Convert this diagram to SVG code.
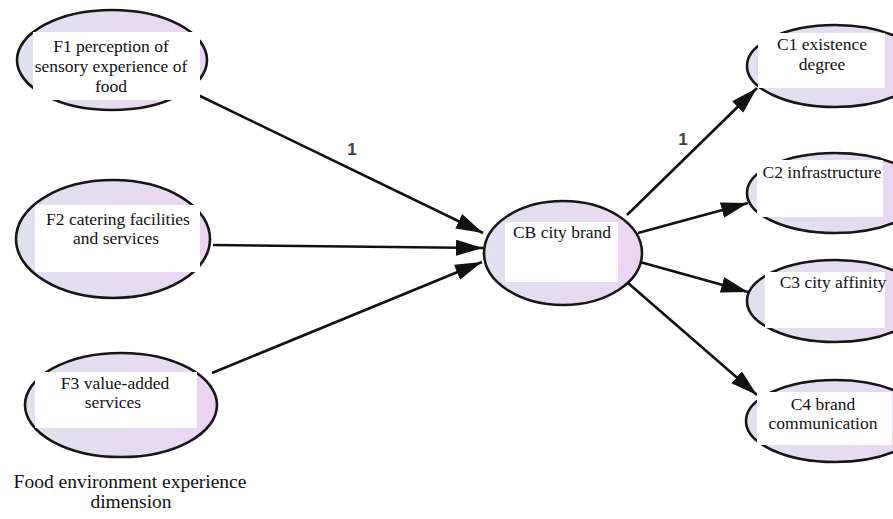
<svg xmlns="http://www.w3.org/2000/svg" width="893" height="519" viewBox="0 0 893 519">
<defs>
<linearGradient id="g" x1="0" y1="0" x2="1" y2="0">
<stop offset="0" stop-color="#dfe2ee"/>
<stop offset="1" stop-color="#ebd5f1"/>
</linearGradient>
<marker id="ah" markerUnits="userSpaceOnUse" markerWidth="28" markerHeight="18" refX="27" refY="8" orient="auto">
<path d="M0,0 L27,8 L0,16 Z" fill="#111"/>
</marker>
</defs>
<style>
.ell{fill:url(#g);stroke:#161616;stroke-width:2.6}
.box{fill:#fff}
.t{font-family:"Liberation Serif","Times New Roman",serif;font-size:17.5px;fill:#111;text-anchor:middle}
.cap{font-family:"Liberation Serif","Times New Roman",serif;font-size:19.5px;fill:#111;text-anchor:middle}
.lbl{font-family:"Liberation Sans",Arial,sans-serif;font-size:17px;font-weight:bold;fill:#404040;text-anchor:middle}
.c{stroke:#111;stroke-width:2.6;fill:none;marker-end:url(#ah)}
</style>
<g id="connectors">
<line class="c" x1="198" y1="95" x2="483" y2="233"/>
<line class="c" x1="213" y1="245" x2="483" y2="248"/>
<line class="c" x1="212" y1="373" x2="482" y2="262"/>
<line class="c" x1="627" y1="215" x2="757" y2="88"/>
<line class="c" x1="638" y1="233" x2="748" y2="203"/>
<line class="c" x1="640" y1="262" x2="748" y2="292"/>
<line class="c" x1="628" y1="283" x2="757" y2="395"/>
<text class="lbl" x="352" y="155">1</text>
<text class="lbl" x="683" y="145">1</text>
</g>
<g id="F1">
<ellipse class="ell" cx="112" cy="60" rx="95" ry="50"/>
<rect class="box" x="33" y="32" width="167" height="68"/>
<text class="t" x="111" y="52">F1 perception of</text>
<text class="t" x="111" y="72">sensory experience of</text>
<text class="t" x="111" y="92">food</text>
</g>
<g id="F2">
<ellipse class="ell" cx="113" cy="239" rx="97" ry="59"/>
<rect class="box" x="35" y="205" width="165" height="67"/>
<text class="t" x="118" y="225">F2 catering facilities</text>
<text class="t" x="116" y="244">and services</text>
</g>
<g id="F3">
<ellipse class="ell" cx="121" cy="405" rx="96" ry="52"/>
<rect class="box" x="35" y="372" width="162" height="56"/>
<text class="t" x="115" y="389">F3 value-added</text>
<text class="t" x="113" y="408">services</text>
</g>
<g id="dimension">
<text class="cap" x="130" y="488">Food environment experience</text>
<text class="cap" x="131" y="508">dimension</text>
</g>
<g id="CB">
<ellipse class="ell" cx="563" cy="253" rx="79" ry="52"/>
<rect class="box" x="505" y="222" width="113" height="60"/>
<text class="t" x="562" y="238">CB city brand</text>
</g>
<g id="C1">
<ellipse class="ell" cx="835" cy="66" rx="88" ry="41"/>
<rect class="box" x="758" y="33" width="127" height="55"/>
<text class="t" x="822" y="50">C1 existence</text>
<text class="t" x="822" y="70">degree</text>
</g>
<g id="C2">
<ellipse class="ell" cx="835" cy="193" rx="88" ry="40"/>
<rect class="box" x="757" y="160" width="126" height="57"/>
<text class="t" x="822" y="178">C2 infrastructure</text>
</g>
<g id="C3">
<ellipse class="ell" cx="835" cy="301" rx="88" ry="41"/>
<rect class="box" x="765" y="272" width="120" height="56"/>
<text class="t" x="833" y="288">C3 city affinity</text>
</g>
<g id="C4">
<ellipse class="ell" cx="835" cy="421" rx="89" ry="41"/>
<rect class="box" x="757" y="392" width="135" height="53"/>
<text class="t" x="823" y="410">C4 brand</text>
<text class="t" x="823" y="429">communication</text>
</g>
</svg>
